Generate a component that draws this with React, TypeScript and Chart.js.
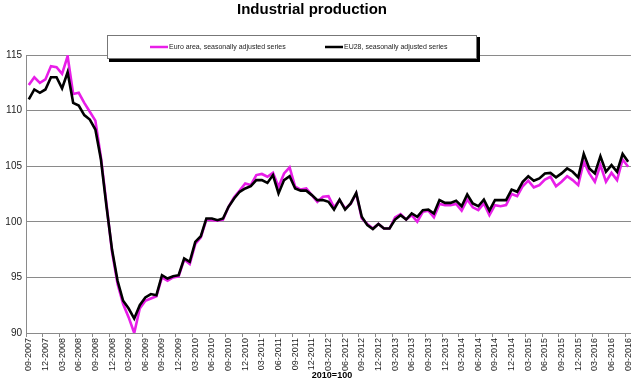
import React, { useEffect, useRef } from "react";
import { Chart, registerables } from "chart.js";

Chart.register(...registerables);

const TITLE = "Industrial production";
const FOOTNOTE = "2010=100";
const SERIES_NAMES = ["Euro area, seasonally adjusted series", "EU28, seasonally adjusted series"];

// Monthly categories 09-2007 .. 09-2016
const months: string[] = [];
for (let k = 0; k < 109; k++) {
  const m = ((8 + k) % 12) + 1;
  const y = 2007 + Math.floor((8 + k) / 12);
  months.push(String(m).padStart(2, "0") + "-" + y);
}

const euroArea: number[] = [
  112.3, 113.0, 112.5, 112.8, 114.0, 113.9, 113.3, 114.9, 111.5, 111.6,
  110.7, 109.9, 109.1, 105.8, 101.6, 97.3, 94.4, 92.6, 91.4, 90.0,
  92.2, 92.9, 93.1, 93.3, 95.0, 94.7, 95.0, 95.1, 96.6, 96.2,
  98.0, 98.6, 100.2, 100.15, 100.1, 100.2, 101.35, 102.2, 102.8, 103.45,
  103.3, 104.2, 104.3, 104.05, 104.4, 103.15, 104.35, 104.9, 103.15, 102.9,
  103.0, 102.4, 101.8, 102.25, 102.3, 101.3, 101.95, 101.2, 101.6, 102.55,
  100.3, 99.8, 99.4, 99.8, 99.4, 99.4, 100.4, 100.7, 100.2, 100.6,
  100.0, 100.9, 101.0, 100.4, 101.6, 101.5, 101.5, 101.6, 101.0, 102.0,
  101.3, 101.05, 101.65, 100.6, 101.5, 101.4, 101.5, 102.5, 102.3, 103.2,
  103.7, 103.1, 103.3, 103.8, 104.05, 103.2, 103.6, 104.1, 103.75, 103.3,
  105.4, 104.35, 103.6, 105.1, 103.6, 104.4, 103.75, 105.6, 104.95,
];

const eu28: number[] = [
  111.0, 111.9, 111.6, 111.9, 113.0, 113.0, 112.0, 113.45, 110.7, 110.45,
  109.6, 109.2, 108.3, 105.6, 101.4, 97.5, 94.7, 92.9, 92.2, 91.3,
  92.5, 93.2, 93.5, 93.4, 95.2, 94.9, 95.1, 95.2, 96.7, 96.4,
  98.2, 98.7, 100.3, 100.3, 100.15, 100.3, 101.35, 102.1, 102.7, 103.0,
  103.2, 103.75, 103.75, 103.5, 104.2, 102.55, 103.75, 104.1, 103.0, 102.8,
  102.8, 102.4, 101.95, 101.95, 101.8, 101.1, 102.0, 101.1, 101.65, 102.6,
  100.45, 99.7, 99.35, 99.8, 99.4, 99.4, 100.2, 100.6, 100.2, 100.75,
  100.45, 101.05, 101.1, 100.75, 101.95, 101.7, 101.7, 101.9, 101.4, 102.45,
  101.65, 101.4, 102.0, 101.0, 101.95, 101.95, 101.95, 102.9, 102.7, 103.6,
  104.1, 103.7, 103.9, 104.35, 104.4, 104.0, 104.35, 104.8, 104.5, 104.0,
  106.1, 104.8, 104.35, 105.9, 104.5, 105.1, 104.5, 106.1, 105.4,
];

const Y_MIN = 90;
const Y_MAX = 115;
const Y_STEP = 5;

const MAGENTA = "#e81ee8";
const BLACK = "#000000";
const GRID = "#8a8a8a";
const FONT = '"Liberation Sans", Arial, sans-serif';

const overlayPlugin = {
  id: "overlay",
  afterDraw(chart: any) {
    const ctx: CanvasRenderingContext2D = chart.ctx;
    ctx.save();
    // Title
    ctx.fillStyle = "#000";
    ctx.font = `bold 15px ${FONT}`;
    ctx.textAlign = "center";
    ctx.textBaseline = "middle";
    ctx.fillText(TITLE, 312, 10);

    // Legend box with shadow
    const bx = 107, by = 35, bw = 370, bh = 24;
    ctx.fillStyle = "#000";
    ctx.fillRect(bx + 2, by + 2, bw + 1, bh + 1);
    ctx.fillStyle = "#fff";
    ctx.fillRect(bx, by, bw, bh);
    ctx.strokeStyle = "#777";
    ctx.lineWidth = 1;
    ctx.strokeRect(bx + 0.5, by + 0.5, bw - 1, bh - 1);

    ctx.font = `7px ${FONT}`;
    ctx.textAlign = "left";
    ctx.textBaseline = "middle";
    const ly = 47;
    ctx.lineWidth = 2.5;
    ctx.strokeStyle = MAGENTA;
    ctx.beginPath(); ctx.moveTo(150, ly); ctx.lineTo(168, ly); ctx.stroke();
    ctx.fillStyle = "#222";
    ctx.fillText(SERIES_NAMES[0], 169, ly);
    ctx.strokeStyle = BLACK;
    ctx.beginPath(); ctx.moveTo(325, ly); ctx.lineTo(343, ly); ctx.stroke();
    ctx.fillText(SERIES_NAMES[1], 344, ly);

    // Footnote
    ctx.font = `bold 9px ${FONT}`;
    ctx.textAlign = "center";
    ctx.fillStyle = "#000";
    ctx.fillText(FOOTNOTE, 332, 376);
    ctx.restore();
  },
};

export default function App() {
  const ref = useRef<HTMLCanvasElement>(null);
  useEffect(() => {
    if (!ref.current) return;
    const chart = new Chart(ref.current, {
      type: "line",
      data: {
        labels: months,
        datasets: [
          {
            label: SERIES_NAMES[0],
            data: euroArea,
            borderColor: MAGENTA,
            backgroundColor: MAGENTA,
            borderWidth: 2.6,
            pointRadius: 0,
            tension: 0,
            order: 1,
          },
          {
            label: SERIES_NAMES[1],
            data: eu28,
            borderColor: BLACK,
            backgroundColor: BLACK,
            borderWidth: 2.6,
            pointRadius: 0,
            tension: 0,
            order: 0,
          },
        ],
      },
      options: {
        responsive: false,
        animation: false,
        layout: { padding: { left: 0, top: 55, right: 8, bottom: 0 } },
        plugins: {
          legend: { display: false },
          title: { display: false },
          tooltip: { enabled: false },
        },
        scales: {
          x: {
            type: "category",
            offset: true,
            border: { display: true, color: GRID, width: 1 },
            grid: {
              display: true,
              drawOnChartArea: false,
              drawTicks: true,
              tickLength: 4,
              offset: true,
              color: (c: any) => (c.index % 3 === 0 ? GRID : "rgba(0,0,0,0)"),
            },
            ticks: {
              autoSkip: false,
              maxRotation: 90,
              minRotation: 90,
              padding: 1,
              color: "#222",
              font: { family: FONT, size: 9 },
              callback: (_v: any, i: number) => (i % 3 === 0 ? months[i] : ""),
            },
            afterFit: (s: any) => { s.height = 48; },
          },
          y: {
            min: Y_MIN,
            max: Y_MAX,
            border: { display: true, color: GRID, width: 1 },
            grid: { color: GRID, lineWidth: 1, drawTicks: false },
            ticks: {
              stepSize: Y_STEP,
              padding: 4,
              color: "#222",
              font: { family: FONT, size: 10 },
            },
            afterFit: (s: any) => { s.width = 26; },
          },
        },
      },
      plugins: [overlayPlugin],
    } as any);
    return () => chart.destroy();
  }, []);
  return (
    <div style={{ position: "absolute", left: 0, top: 0, width: 640, height: 381, background: "#fff" }}>
      <canvas ref={ref} width={640} height={381} style={{ display: "block" }} />
    </div>
  );
}
